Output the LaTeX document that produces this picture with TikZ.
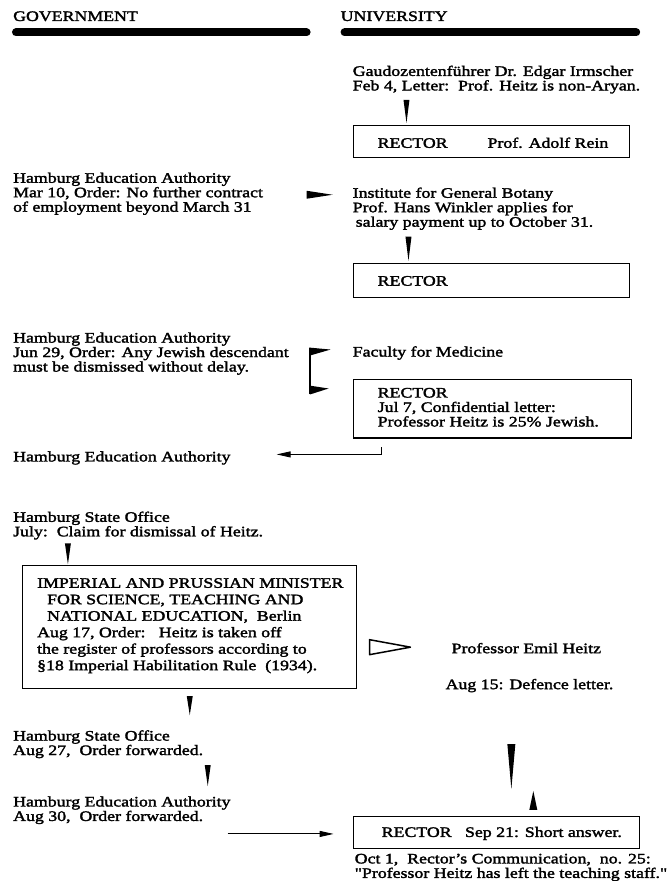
\documentclass[tikz,border=0pt]{standalone}
\usepackage{fontspec}
\setmainfont{Liberation Serif}[FakeStretch=1.23,FakeBold=2]
\newfontfamily\qfont{Liberation Serif}[FakeStretch=1.23,FakeBold=2,Ligatures=TeXOff]
\usetikzlibrary{calc,arrows.meta}

% filled wedge from #1 (broad end) to #2 (point), half width #3
\newcommand\wedgearrow[3]{%
  \fill ($(#1)!#3!90:(#2)$) -- (#2) -- ($(#1)!#3!-90:(#2)$) -- cycle;}
\newcommand\dq{{\qfont"}}

\tikzset{
  txt/.style={anchor=base west, inner sep=0pt, align=left,
    font=\fontsize{14.5}{14.5}\selectfont},
  rbox/.style={draw, line width=1.2pt, anchor=north west, inner sep=0pt},
  bar/.style={line width=8pt, line cap=round},
  link/.style={line width=0.9pt, -{Triangle[length=14pt,width=6pt]}},
}

\begin{document}
\begin{tikzpicture}[x=1pt,y=-1pt]
\fill[white] (0,0) rectangle (644,881);

% headings
\node[txt] (gov) at (13,21) {GOVERNMENT};
\node[txt] (uni) at (341,21) {UNIVERSITY};
\draw[bar] (16,32.5) -- (307,32.5);
\draw[bar] (345,32.5) -- (637,32.5);

% Feb 4 (multi-line texts are placed at their last baseline)
\node[txt] (gaud) at (353,90.5) {Gaudozentenführer Dr. Edgar Irmscher\\Feb 4, Letter:\ \ Prof. Heitz is non-Aryan.};
\node[rbox, minimum width=277pt, minimum height=32pt] (box1) at (353,125) {};
\node[txt] (rect1) at (378,148) {RECTOR};
\node[txt] (rein) at (488,148) {Prof. Adolf Rein};
\coordinate (w1a) at (407,100);
\coordinate (w1b) at (407,123);
\wedgearrow{w1a}{w1b}{3pt}

% Mar 10
\node[txt] (hea1) at (13,212) {Hamburg Education Authority\\Mar 10, Order: No further contract\\of employment beyond March 31};
\node[txt] (botany) at (353,227) {Institute for General Botany\\Prof. Hans Winkler applies for\\\hspace*{3pt}salary payment up to October 31.};
\coordinate (w2a) at (307,195);
\coordinate (w2b) at (333,195);
\wedgearrow{w2a}{w2b}{4pt}
\coordinate (w3a) at (409,237);
\coordinate (w3b) at (409,261);
\wedgearrow{w3a}{w3b}{3pt}
\node[rbox, minimum width=277pt, minimum height=34pt] (box2) at (353,263) {};
\node[txt] (rect2) at (378,286) {RECTOR};

% Jun 29
\node[txt] (hea2) at (13,372) {Hamburg Education Authority\\Jun 29, Order: Any Jewish descendant\\must be dismissed without delay.};
\node[txt] (faculty) at (353,357) {Faculty for Medicine};
\coordinate (brt) at (310,348);
\coordinate (brb) at (310,395);
\draw[line width=2pt] (brt) -- (brb);
\coordinate (w4a) at (310,352);
\coordinate (w4b) at (331,350);
\wedgearrow{w4a}{w4b}{4pt}
\coordinate (w5a) at (310,390.5);
\coordinate (w5b) at (329,389);
\wedgearrow{w5a}{w5b}{4.5pt}
\node[rbox, minimum width=279pt, minimum height=59pt] (box3) at (353,379) {};
\node[txt] (rect3) at (378,427) {RECTOR\\Jul 7, Confidential letter:\\Professor Heitz is 25\% Jewish.};

\node[txt] (hea3) at (13,462) {Hamburg Education Authority};
\coordinate (c3) at (382,448);
\coordinate (c3end) at (277,455);
\draw[link] (c3) |- (c3end);

% July / Aug
\node[txt] (hso1) at (13,537) {Hamburg State Office\\July:\ \ Claim for dismissal of Heitz.};
\coordinate (w6a) at (68,544);
\coordinate (w6b) at (68,565);
\wedgearrow{w6a}{w6b}{3pt}
\node[rbox, minimum width=334pt, minimum height=123pt] (mini) at (22,566) {};
\node[txt, font=\fontsize{14.5}{16.5}\selectfont] (minitxt) at (37,671) {IMPERIAL AND PRUSSIAN MINISTER\\\hspace*{10pt}FOR SCIENCE, TEACHING AND\\\hspace*{10pt}NATIONAL EDUCATION,\ \ Berlin\\Aug 17, Order:\ \ \ Heitz is taken off\\the register of professors according to\\\S18 Imperial Habilitation Rule\ \ (1934).};
\coordinate (hwa) at (370,648);
\coordinate (hwb) at (411,648);
\draw[line width=1.5pt, fill=white, line join=round] ($(hwa)+(0,-7.5)$) -- (hwb) -- ($(hwa)+(0,7.5)$) -- cycle;
\node[txt] (heitz) at (452,654) {Professor Emil Heitz};
\node[txt] (defence) at (446,690) {Aug 15: Defence letter.};

\coordinate (w7a) at (190,697);
\coordinate (w7b) at (190,716);
\wedgearrow{w7a}{w7b}{3pt}
\node[txt] (hso2) at (13,756) {Hamburg State Office\\Aug 27,\ \ Order forwarded.};
\coordinate (w8a) at (208,766);
\coordinate (w8b) at (208,787);
\wedgearrow{w8a}{w8b}{3pt}
\node[txt] (hea4) at (13,822) {Hamburg Education Authority\\Aug 30,\ \ Order forwarded.};

\coordinate (w9a) at (512,745);
\coordinate (w9b) at (512,790);
\wedgearrow{w9a}{w9b}{4pt}
\coordinate (w10a) at (534,811);
\coordinate (w10b) at (534,792);
\wedgearrow{w10a}{w10b}{4pt}

% Sep 21 / Oct 1
\node[rbox, minimum width=287pt, minimum height=32pt] (box4) at (353,817) {};
\node[txt] (rect4) at (382,838) {RECTOR\ \ \ Sep 21: Short answer.};
\coordinate (c4) at (228,835);
\coordinate (c4end) at (334,835);
\draw[link] (c4) -- (c4end);
\node[txt] (oct) at (355,879) {Oct 1,\ \ Rector's Communication,\ \ no. 25:\\\dq Professor Heitz has left the teaching staff.\dq};
\end{tikzpicture}
\end{document}
